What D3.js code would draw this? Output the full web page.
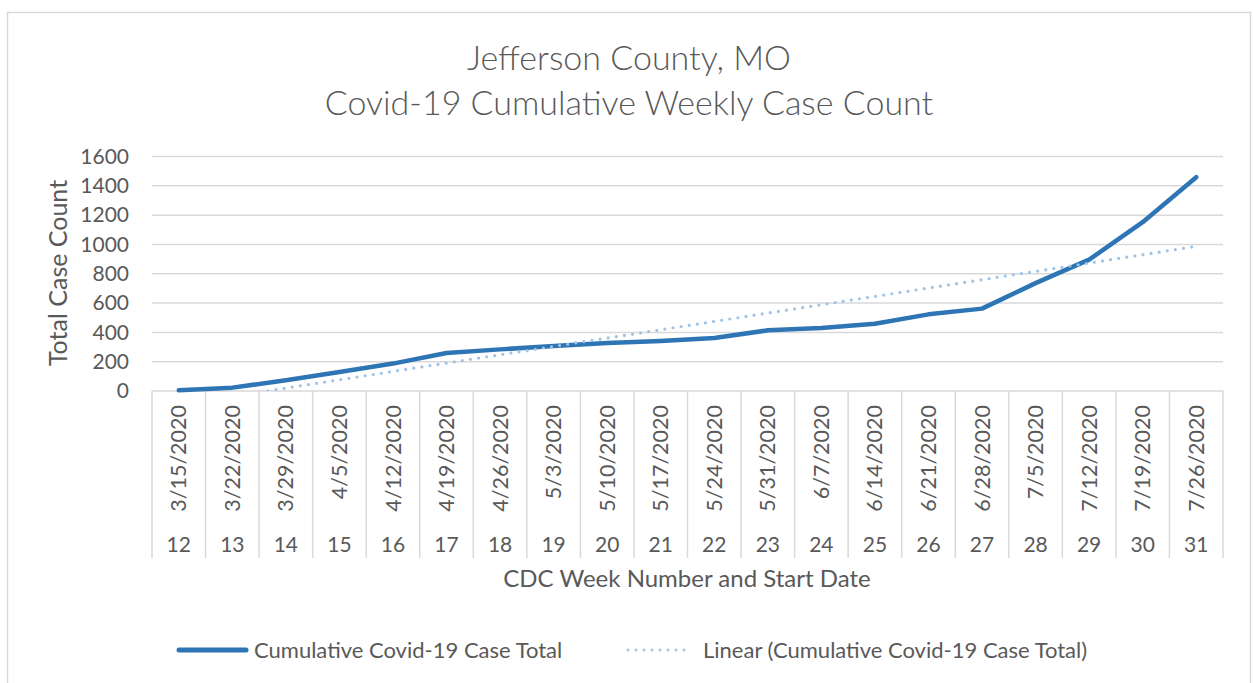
<!DOCTYPE html>
<html>
<head>
<meta charset="utf-8">
<script src="https://cdn.jsdelivr.net/npm/d3@7"></script>
<style>
  body { margin: 0; background: #fff; }
  text { font-family: Lato, "Open Sans", sans-serif; fill: #595959; }
</style>
</head>
<body>
<svg width="1253" height="683"></svg>
<script>
// chart data
const weeks = [12, 13, 14, 15, 16, 17, 18, 19, 20, 21, 22, 23, 24, 25, 26, 27, 28, 29, 30, 31];
const startDates = ["3/15/2020", "3/22/2020", "3/29/2020", "4/5/2020", "4/12/2020", "4/19/2020",
    "4/26/2020", "5/3/2020", "5/10/2020", "5/17/2020", "5/24/2020", "5/31/2020", "6/7/2020",
    "6/14/2020", "6/21/2020", "6/28/2020", "7/5/2020", "7/12/2020", "7/19/2020", "7/26/2020"];
const caseTotals = [5, 23, 73, 130, 187, 259, 284, 307, 327, 341, 361, 414, 430, 459, 523, 562, 736, 896, 1152, 1459];
const yTicks = [0, 200, 400, 600, 800, 1000, 1200, 1400, 1600];

const svg = d3.select("svg");

// outer chart border
svg.append("rect")
    .attr("x", 7.5).attr("y", 12.5)
    .attr("width", 1243).attr("height", 690)
    .attr("fill", "none")
    .attr("stroke", "#d9d9d9")
    .attr("stroke-width", 1.5);

const plotLeft = 152, plotRight = 1223, plotTop = 156.5, plotBottom = 391;

const x = d3.scaleBand()
    .domain(weeks)
    .range([plotLeft, plotRight])
    .padding(0);

const y = d3.scaleLinear()
    .domain([0, 1600])
    .range([plotBottom, plotTop]);

const cx = (w) => x(w) + x.bandwidth() / 2;

// gridlines
svg.append("g")
    .selectAll("line")
    .data(yTicks)
    .enter()
    .append("line")
    .attr("x1", plotLeft)
    .attr("x2", plotRight)
    .attr("y1", (d) => y(d))
    .attr("y2", (d) => y(d))
    .attr("stroke", "#d9d9d9")
    .attr("stroke-width", 1.5);

// y tick labels
svg.append("g")
    .selectAll("text")
    .data(yTicks)
    .enter()
    .append("text")
    .attr("x", 129)
    .attr("y", (d) => y(d))
    .attr("dy", "0.35em")
    .attr("text-anchor", "end")
    .attr("font-size", 21)
    .text((d) => d);

// category separators (multi-level axis)
const seps = weeks.map((w) => x(w)).concat([plotRight]);
svg.append("g")
    .selectAll("line")
    .data(seps)
    .enter()
    .append("line")
    .attr("x1", (d) => d)
    .attr("x2", (d) => d)
    .attr("y1", plotBottom)
    .attr("y2", 558)
    .attr("stroke", "#d9d9d9")
    .attr("stroke-width", 1.5);

// date labels
svg.append("g")
    .selectAll("text")
    .data(weeks)
    .enter()
    .append("text")
    .attr("transform", (d) => `translate(${cx(d)},405) rotate(-90)`)
    .attr("dy", "0.35em")
    .attr("text-anchor", "end")
    .attr("font-size", 21.5)
    .text((d, i) => startDates[i]);

// week numbers
svg.append("g")
    .selectAll("text")
    .data(weeks)
    .enter()
    .append("text")
    .attr("x", (d) => cx(d))
    .attr("y", 545)
    .attr("dy", "0.35em")
    .attr("text-anchor", "middle")
    .attr("font-size", 21)
    .text((d) => d);

// linear trend (least squares over series)
const n = caseTotals.length;
const xs = d3.range(1, n + 1);
const mx = d3.mean(xs), my = d3.mean(caseTotals);
const slope = d3.sum(xs, (v, i) => (v - mx) * (caseTotals[i] - my)) / d3.sum(xs, (v) => (v - mx) ** 2);
const icpt = my - slope * mx;

svg.append("clipPath")
    .attr("id", "plot")
    .append("rect")
    .attr("x", plotLeft).attr("y", plotTop - 10)
    .attr("width", plotRight - plotLeft).attr("height", plotBottom - plotTop + 10);

const line = d3.line()
    .x((d) => cx(d[0]))
    .y((d) => y(d[1]));

svg.append("path")
    .datum(weeks.map((w, i) => [w, caseTotals[i]]))
    .attr("d", line)
    .attr("fill", "none")
    .attr("stroke", "#2e75b6")
    .attr("stroke-width", 4.5)
    .attr("stroke-linejoin", "round")
    .attr("stroke-linecap", "round");

svg.append("path")
    .datum([[weeks[0], icpt + slope], [weeks[n - 1], icpt + slope * n]])
    .attr("d", line)
    .attr("clip-path", "url(#plot)")
    .attr("fill", "none")
    .attr("stroke", "#9dc3e6")
    .attr("stroke-width", 3.2)
    .attr("stroke-linecap", "round")
    .attr("stroke-dasharray", "0 8.2");

// titles
svg.append("text")
    .attr("x", 629).attr("y", 58)
    .attr("dy", "0.35em")
    .attr("text-anchor", "middle")
    .attr("font-size", 34)
    .attr("font-weight", 300)
    .text("Jefferson County, MO");

svg.append("text")
    .attr("x", 629).attr("y", 103)
    .attr("dy", "0.35em")
    .attr("text-anchor", "middle")
    .attr("font-size", 34)
    .attr("font-weight", 300)
    .text("Covid-19 Cumulative Weekly Case Count");

svg.append("text")
    .attr("transform", "translate(58,273) rotate(-90)")
    .attr("dy", "0.35em")
    .attr("text-anchor", "middle")
    .attr("font-size", 25)
    .text("Total Case Count");

svg.append("text")
    .attr("x", 687).attr("y", 579)
    .attr("dy", "0.35em")
    .attr("text-anchor", "middle")
    .attr("font-size", 24)
    .text("CDC Week Number and Start Date");

// legend
const legend = svg.append("g");
legend.append("line")
    .attr("x1", 179).attr("x2", 246)
    .attr("y1", 650).attr("y2", 650)
    .attr("stroke", "#2e75b6")
    .attr("stroke-width", 5)
    .attr("stroke-linecap", "round");
legend.append("text")
    .attr("x", 254).attr("y", 650)
    .attr("dy", "0.35em")
    .attr("font-size", 22)
    .text("Cumulative Covid-19 Case Total");
legend.append("line")
    .attr("x1", 628).attr("x2", 692)
    .attr("y1", 650).attr("y2", 650)
    .attr("stroke", "#9dc3e6")
    .attr("stroke-width", 3)
    .attr("stroke-linecap", "round")
    .attr("stroke-dasharray", "0 8");
legend.append("text")
    .attr("x", 703).attr("y", 650)
    .attr("dy", "0.35em")
    .attr("font-size", 22)
    .text("Linear (Cumulative Covid-19 Case Total)");
</script>
</body>
</html>
